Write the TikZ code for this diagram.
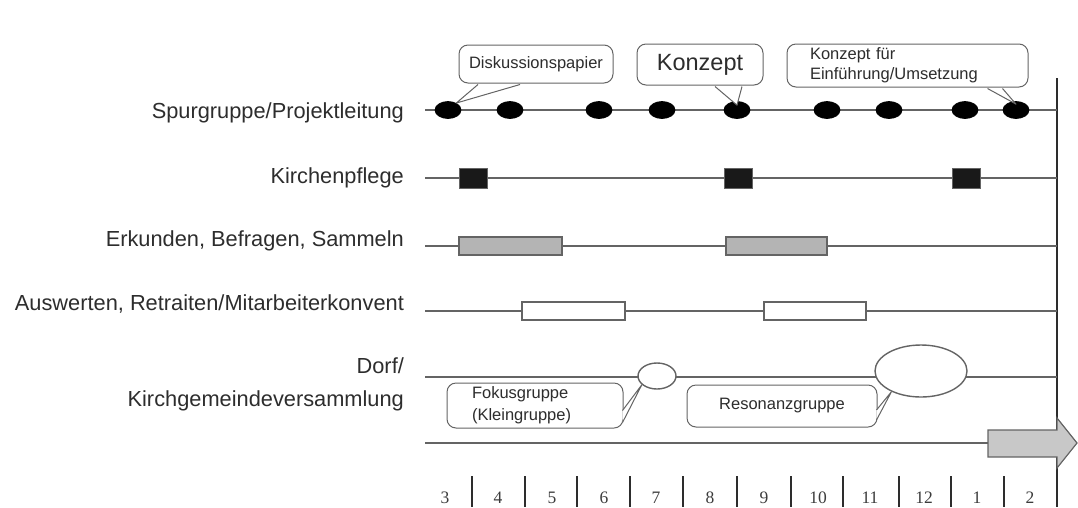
\documentclass[tikz,border=0pt]{standalone}
\usepackage{fontspec}
\setmainfont{Liberation Sans}
\newfontfamily\monthfont{Liberation Serif}
\usetikzlibrary{shapes.geometric}

\definecolor{linegray}{RGB}{100,100,100}
\definecolor{textgray}{RGB}{45,45,45}
\definecolor{barfill}{RGB}{180,180,180}
\definecolor{arrowfill}{RGB}{200,200,200}

\tikzset{every picture/.style={line width=0.75pt}}
\tikzset{
	rowlabel/.style={anchor=base east, inner sep=0.75pt, text=textgray, font=\fontsize{21.8}{33}\selectfont},
	rowline/.style={draw=linegray, line width=1.3pt},
	meeting/.style={ellipse, fill=black, draw=black, minimum width=26pt, minimum height=17pt, inner sep=0pt},
	board/.style={rectangle, fill={rgb,255:red,25;green,25;blue,25}, draw=linegray, minimum width=28pt, minimum height=20pt, inner sep=0pt},
	phase/.style={rectangle, draw=linegray, line width=1.2pt, minimum height=18pt, inner sep=0pt},
	callbox/.style={rectangle, rounded corners=9pt, draw=linegray, fill=white, line width=1pt, inner sep=0pt, text=textgray, font=\fontsize{16.5}{20}\selectfont},
	tail/.style={draw=linegray, fill=white, line width=1pt, line join=round},
	gathering/.style={ellipse, draw=linegray, fill=white, line width=1.4pt, inner sep=0pt},
	month/.style={inner sep=0pt, text={rgb,255:red,60;green,60;blue,60}, font=\monthfont\fontsize{17.5}{17.5}\selectfont},
	monthsep/.style={draw=textgray, line width=1.1pt}
}

\begin{document}
\begin{tikzpicture}[x=1pt,y=1pt,yscale=-1,xscale=1]
	\useasboundingbox (0,0) rectangle (1078,507);
	
	% Text Node
	\node [rowlabel] (lspur) at (405,118) {Spurgruppe/Projektleitung};
	% Text Node
	\node [rowlabel] (lpflege) at (405,183) {Kirchenpflege};
	% Text Node
	\node [rowlabel] (lerk) at (405,246) {Erkunden, Befragen, Sammeln};
	% Text Node
	\node [rowlabel] (lausw) at (405,310) {Auswerten, Retraiten/Mitarbeiterkonvent};
	% Text Node
	\node [rowlabel, anchor=east, align=right] (ldorf) at (405,384) {Dorf/\\Kirchgemeindeversammlung};
	
	%Straight Lines
	\coordinate (vtop) at (1057,78);
	\coordinate (vbot) at (1057,507);
	\draw [draw=textgray, line width=1.3pt] (vtop) -- (vbot);
	\coordinate (r1) at (425,110);
	\coordinate (r2) at (425,178);
	\coordinate (r3) at (425,246);
	\coordinate (r4) at (425,311);
	\coordinate (r5) at (425,377);
	\coordinate (r6) at (425,443);
	\foreach \r in {r1,r2,r3,r4,r5}
		\draw [rowline] (\r) -- (\r -| vtop);
	
	%Shape: Block Arrow
	\coordinate (arr) at (988,443);
	\draw [rowline] (r6) -- (arr);
	\draw [draw=linegray, fill=arrowfill, line width=1.2pt] (arr) -- (988,430) -- (1057,430) -- (1057,418) -- (1077,443) -- (1057,468) -- (1057,457) -- (988,457) -- cycle;
	
	%Shape: Meetings
	\foreach \x [count=\i] in {448,510,599,662,737,827,889,965,1016}
		\node [meeting] (dot\i) at (\x,110) {};
	
	%Shape: Square
	\node [board] (kp1) at (473,178) {};
	\node [board] (kp2) at (738,178) {};
	\node [board] (kp3) at (966,178) {};
	
	%Shape: Rectangle
	\node [phase, fill=barfill, minimum width=103pt] (erk1) at (510.5,246) {};
	\node [phase, fill=barfill, minimum width=101pt] (erk2) at (776.5,246) {};
	\node [phase, fill=white, minimum width=103pt] (ausw1) at (573.5,311) {};
	\node [phase, fill=white, minimum width=102pt] (ausw2) at (815,311) {};
	
	%Shape: Ellipse
	\node [gathering, minimum width=38pt, minimum height=26pt] (fokus) at (657,376) {};
	\node [gathering, minimum width=92pt, minimum height=52pt] (reson) at (921,371) {};
	
	%Shape: Callouts
	\node [callbox, minimum width=154pt, minimum height=38pt] (cdisk) at (536,64) {Diskussionspapier};
	\draw [tail] ([xshift=-58pt,yshift=1pt]cdisk.south) -- (dot1.40) -- ([xshift=-16pt,yshift=1pt]cdisk.south);
	\node [callbox, minimum width=126pt, minimum height=41pt, font=\fontsize{23.5}{26}\selectfont] (ckonz) at (700,64.5) {Konzept};
	\draw [tail] ([xshift=15pt,yshift=1pt]ckonz.south) -- ([yshift=4pt]dot5.north) -- ([xshift=42pt,yshift=1pt]ckonz.south);
	\node [callbox, text width=195pt, inner xsep=23pt, minimum height=43pt, align=left] (ceinf) at (907.5,65.5) {Konzept für\\Einführung/Umsetzung};
	\draw [tail] ([xshift=80pt,yshift=1pt]ceinf.south) -- ([yshift=3pt]dot9.north) -- ([xshift=95pt,yshift=1pt]ceinf.south);
	\node [callbox, text width=126pt, inner xsep=25pt, minimum height=45pt, align=left, font=\fontsize{16.5}{22}\selectfont] (cfokus) at (535,405.5) {Fokusgruppe\\(Kleingruppe)};
	\draw [tail] ([xshift=-1pt,yshift=17pt]cfokus.east) -- (fokus.210) -- ([xshift=-1pt,yshift=5pt]cfokus.east);
	\node [callbox, minimum width=190pt, minimum height=42pt] (creson) at (782,406) {Resonanzgruppe};
	\draw [tail] ([xshift=-1pt,yshift=14pt]creson.east) -- (reson.215) -- ([xshift=-1pt,yshift=4pt]creson.east);
	
	%Months
	\foreach \x in {472,525,577,630,683,737,791,843,899,951,1004}
		\draw [monthsep] (\x,476) -- (\x,507);
	\foreach \x/\m in {445/3,498/4,552/5,604/6,656/7,710/8,764/9,818/10,870/11,924/12,977/1,1030/2}
		\node [month] (m\m) at (\x,498) {\m};
	
\end{tikzpicture}
\end{document}
